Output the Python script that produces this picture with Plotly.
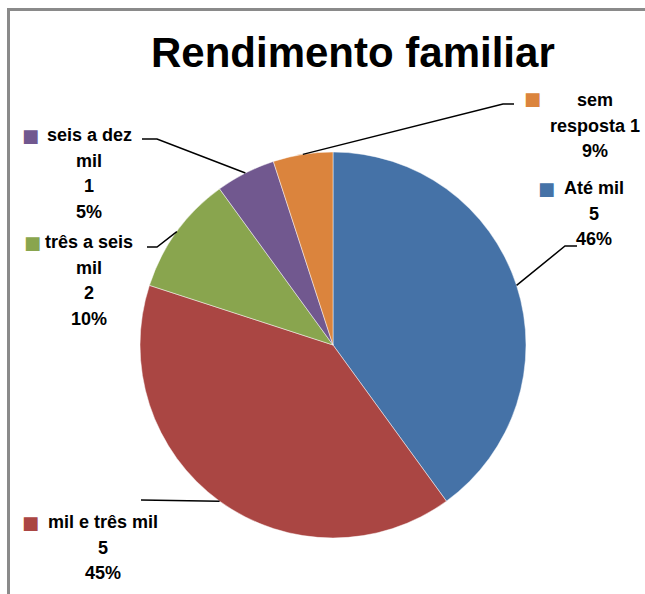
import math
import plotly.graph_objects as go

# --- data ---
categories = ["Até mil", "mil e três mil", "três a seis mil", "seis a dez mil", "sem resposta"]
counts = [5, 5, 2, 1, 1]
pct_text = ["46%", "45%", "10%", "5%", "9%"]
shares = [40, 40, 10, 5, 5]          # slice sizes as drawn
colors = ["#4572A7", "#AA4643", "#89A54E", "#71588F", "#DB843D"]

W, H = 645, 594
FONT = "Liberation Sans, Arial, sans-serif"

# pie placement in pixels
CX, CY, R = 333, 345, 193


def px(x):
    return x / W


def py(y):
    return 1 - y / H


# label layout: line texts are built from the data, positions are layout only
label_lines = [
    [categories[0], str(counts[0]), pct_text[0]],
    [categories[1], str(counts[1]), pct_text[1]],
    ["três a seis", "mil", str(counts[2]), pct_text[2]],
    ["seis a dez", "mil", str(counts[3]), pct_text[3]],
    ["sem", "resposta " + str(counts[4]), pct_text[4]],
]
label_x = [594, 103, 89, 89, 595]
label_y0 = [188, 522, 242, 135, 100]
line_gap = 25.7
key_pos = [(546, 188), (30, 522), (32, 242), (30, 135), (532, 98)]
# leader line vertices (after the point on the slice edge)
leaders = [
    [(565, 246), (577, 246)],
    [(141, 500)],
    [(157, 247), (147, 247)],
    [(157, 139), (142, 139)],
    [(503, 104), (514, 104)],
]

fig = go.Figure()
fig.add_trace(go.Pie(
    labels=categories,
    values=shares,
    sort=False,
    direction="clockwise",
    rotation=0,
    textinfo="none",
    hoverinfo="label+percent",
    marker=dict(colors=colors, line=dict(color="rgba(255,255,255,0.6)", width=0.8)),
    domain=dict(x=[px(CX - R), px(CX + R)], y=[py(CY + R), py(CY - R)]),
    showlegend=False,
))

annotations = [dict(
    text="<b>Rendimento familiar</b>", x=px(353), y=py(53),
    xref="paper", yref="paper", showarrow=False,
    font=dict(family=FONT, size=42, color="black"),
    xanchor="center", yanchor="middle",
)]
# chart frame: only the top and left edges are inside the picture
frame = dict(color="#8a8a8a", width=3)
shapes = [
    dict(type="line", xref="paper", yref="paper",
         x0=px(7), x1=1, y0=py(9.5), y1=py(9.5), line=frame),
    dict(type="line", xref="paper", yref="paper",
         x0=px(8.5), x1=px(8.5), y0=0, y1=py(8), line=frame),
]

total = sum(shares)
cum = 0
for i, v in enumerate(shares):
    mid = (cum + v / 2) / total * 2 * math.pi
    cum += v
    ex = CX + R * math.sin(mid)
    ey = CY - R * math.cos(mid)
    pts = [(ex, ey)] + leaders[i]
    path = "M " + " L ".join(f"{px(x):.5f},{py(y):.5f}" for x, y in pts)
    shapes.append(dict(type="path", xref="paper", yref="paper", path=path,
                       line=dict(color="black", width=1.5)))

    for j, t in enumerate(label_lines[i]):
        annotations.append(dict(
            text=f"<b>{t}</b>", x=px(label_x[i]), y=py(label_y0[i] + j * line_gap),
            xref="paper", yref="paper", showarrow=False,
            font=dict(family=FONT, size=18, color="black"),
            xanchor="center", yanchor="middle",
        ))
    kx, ky = key_pos[i]
    annotations.append(dict(
        text="■", x=px(kx), y=py(ky), xref="paper", yref="paper", showarrow=False,
        font=dict(family="DejaVu Sans", size=18, color=colors[i]),
        xanchor="center", yanchor="middle",
    ))

fig.update_layout(
    width=W, height=H,
    margin=dict(l=0, r=0, t=0, b=0),
    paper_bgcolor="white",
    plot_bgcolor="white",
    annotations=annotations,
    shapes=shapes,
)

# page default margin would push the figure 8px off
fig.write_html("out.html",
               config={"displayModeBar": False},
               post_script="document.body.style.margin='0';document.body.style.overflow='hidden';")
